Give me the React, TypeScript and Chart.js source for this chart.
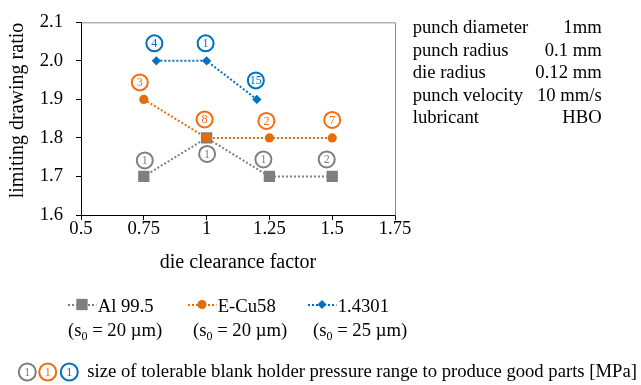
import React, { useEffect, useRef } from "react";
import { Chart, registerables } from "chart.js";

Chart.register(...registerables);

// ---------- data ----------
const alX = [0.75, 1.0, 1.25, 1.5];
const alY = [1.7, 1.8, 1.7, 1.7];
const alPressure = ["1", "1", "1", "2"];

const cuX = [0.75, 1.0, 1.25, 1.5];
const cuY = [1.9, 1.8, 1.8, 1.8];
const cuPressure = ["3", "8", "2", "7"];

const ssX = [0.8, 1.0, 1.2];
const ssY = [2.0, 2.0, 1.9];
const ssPressure = ["4", "1", "15"];

const seriesNames = ["Al 99.5", "E-Cu58", "1.4301"];
const sheetThickness = ["20", "20", "25"];

const xTicks = [0.5, 0.75, 1, 1.25, 1.5, 1.75];
const yTicks = [1.6, 1.7, 1.8, 1.9, 2.0, 2.1];

const infoLabels = ["punch diameter", "punch radius", "die radius", "punch velocity", "lubricant"];
const infoValues = ["1mm", "0.1 mm", "0.12 mm", "10 mm/s", "HBO"];

const xTitle = "die clearance factor";
const yTitle = "limiting drawing ratio";
const badgeNote = "size of tolerable blank holder pressure range to produce good parts [MPa]";

// ---------- styles ----------
const FONT = '"Liberation Serif", "Times New Roman", serif';
const GRAY = "#7f7f7f";
const ORANGE = "#e46c0a";
const ORANGE_RING = "#f56a10";
const BLUE = "#0070c0";

// badge placement relative to each point (px)
const alBadgeOffsets = [[1, -16], [0.5, 16], [-6, -17], [-5.5, -17]];
const cuBadgeOffsets = [[-4, -17], [-2, -18.5], [-3, -17], [0, -18]];
const ssBadgeOffsets = [[-2, -17.5], [-1, -17.5], [-1, -19]];

export default function App() {
  const canvasRef = useRef<HTMLCanvasElement | null>(null);

  useEffect(() => {
    const canvas = canvasRef.current;
    if (!canvas) return;

    const badgeSets = [
      { labels: alPressure, offsets: alBadgeOffsets, ring: GRAY, text: GRAY },
      { labels: cuPressure, offsets: cuBadgeOffsets, ring: ORANGE_RING, text: ORANGE_RING },
      { labels: ssPressure, offsets: ssBadgeOffsets, ring: BLUE, text: BLUE },
    ];

    const drawBadge = (ctx: CanvasRenderingContext2D, x: number, y: number, r: number, ring: string, text: string, label: string, fontPx: number) => {
      ctx.save();
      ctx.beginPath();
      ctx.arc(x, y, r, 0, Math.PI * 2);
      ctx.lineWidth = 2;
      ctx.strokeStyle = ring;
      ctx.stroke();
      ctx.fillStyle = text;
      ctx.font = `${fontPx}px ${FONT}`;
      ctx.textAlign = "center";
      ctx.textBaseline = "middle";
      ctx.fillText(label, x, y + 0.5);
      ctx.restore();
    };

    const drawMarker = (ctx: CanvasRenderingContext2D, style: string, cx: number, cy: number, color: string) => {
      ctx.save();
      ctx.fillStyle = color;
      ctx.beginPath();
      if (style === "rect") {
        ctx.rect(cx - 5.65, cy - 5.65, 11.3, 11.3);
      } else if (style === "circle") {
        ctx.arc(cx, cy, 4.5, 0, Math.PI * 2);
      } else {
        ctx.moveTo(cx, cy - 4.5);
        ctx.lineTo(cx + 4.5, cy);
        ctx.lineTo(cx, cy + 4.5);
        ctx.lineTo(cx - 4.5, cy);
        ctx.closePath();
      }
      ctx.fill();
      ctx.restore();
    };

    const framePlugin = {
      id: "frame",
      beforeDatasetsDraw(chart: any) {
        const { ctx, chartArea } = chart;
        ctx.save();
        ctx.strokeStyle = "#8c8c8c";
        ctx.lineWidth = 1;
        ctx.beginPath();
        ctx.moveTo(chartArea.left + 0.5, chartArea.top + 0.5);
        ctx.lineTo(chartArea.right + 0.5, chartArea.top + 0.5);
        ctx.lineTo(chartArea.right + 0.5, chartArea.bottom + 0.5);
        ctx.stroke();
        ctx.restore();
      },
    };

    const badgePlugin = {
      id: "badges",
      afterDatasetsDraw(chart: any) {
        const ctx = chart.ctx;
        badgeSets.forEach((set, di) => {
          const meta = chart.getDatasetMeta(di);
          meta.data.forEach((el: any, j: number) => {
            const off = set.offsets[j];
            drawBadge(ctx, el.x + off[0], el.y + off[1], 8, set.ring, set.text, set.labels[j], 12);
          });
        });
      },
    };

    const notesPlugin = {
      id: "notes",
      afterDraw(chart: any) {
        const ctx = chart.ctx as CanvasRenderingContext2D;
        ctx.save();

        // y-axis title (centred slightly above the plot middle, as in the source)
        ctx.save();
        ctx.translate(18, 110.5);
        ctx.rotate(-Math.PI / 2);
        ctx.fillStyle = "#000";
        ctx.font = `20px ${FONT}`;
        ctx.textAlign = "center";
        ctx.textBaseline = "middle";
        ctx.fillText(yTitle, 0, 0);
        ctx.restore();

        // info block
        ctx.fillStyle = "#000";
        ctx.font = `18.67px ${FONT}`;
        ctx.textBaseline = "alphabetic";
        infoLabels.forEach((lab, i) => {
          const y = 33.3 + i * 22.5;
          ctx.textAlign = "left";
          ctx.fillText(lab, 412.7, y);
          ctx.textAlign = "right";
          ctx.fillText(infoValues[i], 601.7, y);
        });

        // legend
        const ds = chart.data.datasets;
        const starts = [68, 188, 308];
        const row2 = [68, 193, 313];
        ds.forEach((d: any, i: number) => {
          const x0 = starts[i];
          const ly = 305;
          ctx.save();
          ctx.strokeStyle = d.borderColor;
          ctx.lineWidth = 2;
          ctx.setLineDash(d.borderDash);
          ctx.beginPath();
          ctx.moveTo(x0, ly);
          ctx.lineTo(x0 + 28.5, ly);
          ctx.stroke();
          ctx.restore();
          drawMarker(ctx, d.pointStyle, x0 + 14, ly - 0.5, d.backgroundColor);
          ctx.fillStyle = "#000";
          ctx.textAlign = "left";
          ctx.font = `18.67px ${FONT}`;
          ctx.fillText(seriesNames[i], x0 + 29.7, 311.7);

          // second line: (s0 = xx µm)
          let x = row2[i];
          const by = 336;
          ctx.font = `18.67px ${FONT}`;
          ctx.fillText("(s", x, by);
          x += ctx.measureText("(s").width;
          ctx.font = `12px ${FONT}`;
          ctx.fillText("0", x, by + 3.5);
          x += ctx.measureText("0").width;
          ctx.font = `18.67px ${FONT}`;
          ctx.fillText(` = ${sheetThickness[i]} µm)`, x, by);
        });

        // badge note
        const ringColors = [GRAY, ORANGE_RING, BLUE];
        const cxs = [27.3, 47.7, 69.3];
        ringColors.forEach((c, i) => drawBadge(ctx, cxs[i], 372, 8.5, c, c, "1", 12));
        ctx.fillStyle = "#000";
        ctx.textAlign = "left";
        ctx.font = `18.67px ${FONT}`;
        ctx.fillText(badgeNote, 87.3, 376.7);
        ctx.restore();
      },
    };

    const chart = new Chart(canvas, {
      type: "line",
      data: {
        datasets: [
          {
            label: seriesNames[0],
            data: alX.map((x, i) => ({ x, y: alY[i] })),
            borderColor: GRAY,
            backgroundColor: GRAY,
            borderWidth: 2,
            borderDash: [2, 2],
            pointStyle: "rect",
            pointRadius: 8,
            pointBorderWidth: 0,
            order: 3,
          },
          {
            label: seriesNames[1],
            data: cuX.map((x, i) => ({ x, y: cuY[i] })),
            borderColor: ORANGE,
            backgroundColor: ORANGE,
            borderWidth: 2,
            borderDash: [2, 2],
            pointStyle: "circle",
            pointRadius: 4.6,
            pointBorderWidth: 0,
            order: 2,
          },
          {
            label: seriesNames[2],
            data: ssX.map((x, i) => ({ x, y: ssY[i] })),
            borderColor: BLUE,
            backgroundColor: BLUE,
            borderWidth: 2,
            borderDash: [2, 2],
            pointStyle: "rectRot",
            pointRadius: 4.6,
            pointBorderWidth: 0,
            order: 1,
          },
        ],
      },
      options: {
        responsive: false,
        animation: false,
        events: [],
        layout: { padding: { left: 0, top: 16, right: 246, bottom: 110 } },
        plugins: {
          legend: { display: false },
          tooltip: { enabled: false },
        },
        scales: {
          x: {
            type: "linear",
            min: 0.5,
            max: 1.75,
            afterBuildTicks: (s: any) => {
              s.ticks = xTicks.map((v) => ({ value: v }));
            },
            afterFit: (s: any) => {
              s.height = 60;
            },
            grid: { drawOnChartArea: false, drawTicks: true, tickLength: 5, color: "#000" },
            border: { display: true, color: "#000", width: 1 },
            ticks: {
              padding: 0,
              color: "#000",
              font: { family: FONT, size: 18.67, lineHeight: 1 },
              callback: (v: any) => String(Number(v)),
              maxRotation: 0,
              autoSkip: false,
            },
            title: {
              display: true,
              text: xTitle,
              color: "#000",
              font: { family: FONT, size: 20, lineHeight: 1.2 },
              padding: { top: 0, bottom: 0 },
            },
          },
          y: {
            type: "linear",
            min: 1.6,
            max: 2.1,
            afterBuildTicks: (s: any) => {
              s.ticks = yTicks.map((v) => ({ value: v }));
            },
            afterFit: (s: any) => {
              s.width = 81;
            },
            grid: { drawOnChartArea: false, drawTicks: true, tickLength: 5, color: "#000" },
            border: { display: true, color: "#000", width: 1 },
            ticks: {
              padding: 13,
              color: "#000",
              font: { family: FONT, size: 18.67, lineHeight: 1 },
              callback: (v: any) => Number(v).toFixed(1),
              autoSkip: false,
            },
            title: { display: false },
          },
        },
      },
      plugins: [framePlugin, badgePlugin, notesPlugin],
    } as any);

    return () => chart.destroy();
  }, []);

  return (
    <div style={{ position: "absolute", left: 0, top: 0, width: 641, height: 385, background: "#fff" }}>
      <canvas ref={canvasRef} width={641} height={385} style={{ width: 641, height: 385, display: "block" }} />
    </div>
  );
}
